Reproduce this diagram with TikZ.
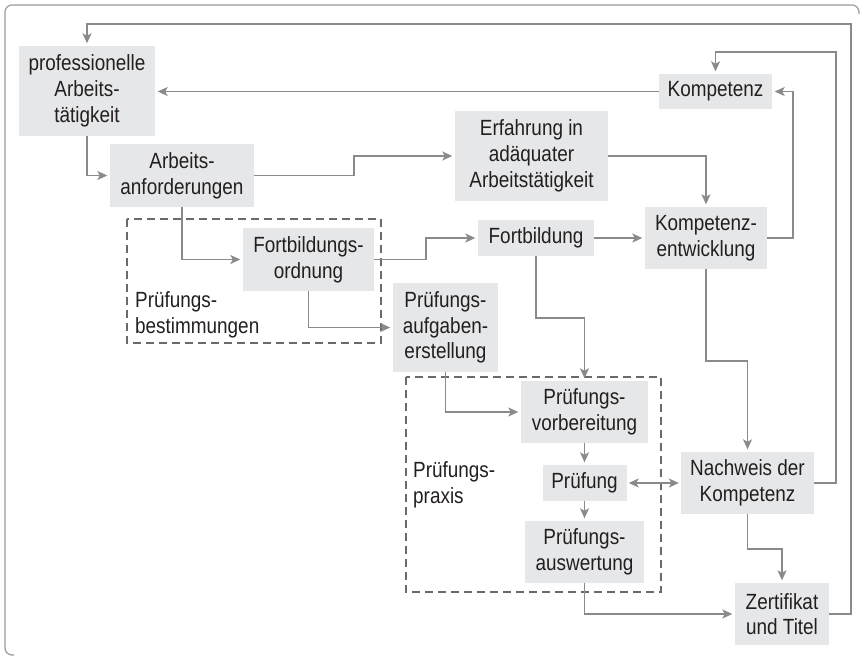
\documentclass[tikz,border=0pt]{standalone}
\usepackage{fontspec}
\setmainfont[FakeStretch=0.86]{Liberation Sans}
\usetikzlibrary{arrows.meta}
\definecolor{boxgray}{HTML}{E6E7E8}
\definecolor{linegray}{HTML}{8A8A8A}
\definecolor{framegray}{HTML}{9A9A9A}
\definecolor{dashgray}{HTML}{6A6A6A}
\definecolor{txt}{HTML}{231F20}
\tikzset{
  box/.style={fill=boxgray, inner sep=0pt, align=center, text=txt,
    font=\fontsize{22}{25.7}\selectfont},
  lbl/.style={inner sep=0pt, align=left, text=txt, anchor=west,
    font=\fontsize{22}{25.7}\selectfont},
  conn/.style={draw=linegray, line width=1.3pt},
  arr/.style={conn, -{Stealth[length=10pt,width=9pt,inset=2.5pt]}, shorten >=2.5pt},
  darr/.style={conn, {Stealth[length=10pt,width=9pt,inset=2.5pt]}-{Stealth[length=10pt,width=9pt,inset=2.5pt]}, shorten >=2pt, shorten <=2pt},
  group/.style={draw=dashgray, line width=1.1pt, dash pattern=on 8pt off 5pt},
}
\begin{document}
\begin{tikzpicture}[x=1pt,y=-1pt]
\useasboundingbox (0,0) rectangle (862,658);
% frame
\draw[framegray, line width=1.2pt, rounded corners=7pt] (859,14) -- (859,5) -- (5,5) -- (5,655) -- (14,655);
% dashed groups
\draw[group] (127,219) rectangle (381,343);
\draw[group] (406,377) rectangle (661,592);
\node[lbl] (lPB) at (135,314.5) {Prüfungs-\\bestimmungen};
\node[lbl] (lPP) at (413,485) {Prüfungs-\\praxis};
% boxes
\node[box, minimum width=136pt, minimum height=90pt] (pA) at (87,91) {professionelle\\Arbeits-\\tätigkeit};
\node[box, minimum width=144pt, minimum height=63pt] (AA) at (182,175.5) {Arbeits-\\anforderungen};
\node[box, minimum width=131pt, minimum height=63pt] (FO) at (308.5,259.5) {Fortbildungs-\\ordnung};
\node[box, minimum width=113pt, minimum height=35pt] (Komp) at (715.5,91.5) {Kompetenz};
\node[box, minimum width=153pt, minimum height=90pt] (Erf) at (531.5,156) {Erfahrung in\\adäquater\\Arbeitstätigkeit};
\node[box, minimum width=116pt, minimum height=36pt] (Fb) at (536,238) {Fortbildung};
\node[box, minimum width=122pt, minimum height=62pt] (KE) at (706,238) {Kompetenz-\\entwicklung};
\node[box, minimum width=105pt, minimum height=89pt] (PAE) at (445.5,327.5) {Prüfungs-\\aufgaben-\\erstellung};
\node[box, minimum width=127pt, minimum height=62pt] (PV) at (584.5,412) {Prüfungs-\\vorbereitung};
\node[box, minimum width=84pt, minimum height=36pt] (Pr) at (584.5,483) {Prüfung};
\node[box, minimum width=119pt, minimum height=62pt] (PAu) at (584.5,552) {Prüfungs-\\auswertung};
\node[box, minimum width=133pt, minimum height=62pt] (NK) at (747.5,483) {Nachweis der\\Kompetenz};
\node[box, minimum width=94pt, minimum height=62pt] (ZT) at (782,614) {Zertifikat\\und Titel};
% connectors
\draw[arr] (ZT.east) -| (851,24) -| (pA.north);
\draw[arr] (Komp.west) -- (Komp.west -| pA.east);
\draw[arr] (pA.south) |- (AA.west);
\draw[arr] (AA.east) -| (354,156) -- (Erf.west);
\draw[arr] (AA.south) |- (FO.west);
\draw[arr] (FO.east) -| (426,238) -- (Fb.west);
\draw[arr] (FO.south) |- (PAE.west);
\draw[arr] (Erf.east) -| (KE.north);
\draw[arr] (Fb.east) -- (KE.west);
\draw[arr] (KE.east) -| (793,91.5) -- (Komp.east);
\draw[arr] (NK.east) -| (836,52) -| (Komp.north);
\draw[arr] (Fb.south) |- (584.5,318) -- (PV.north);
\draw[arr] (KE.south) |- (747.5,361) -- (NK.north);
\draw[arr] (PAE.south) |- (PV.west);
\draw[arr] (PV.south) -- (Pr.north);
\draw[arr] (Pr.south) -- (PAu.north);
\draw[darr] (Pr.east) -- (NK.west);
\draw[arr] (PAu.south) |- (ZT.west);
\draw[arr] (NK.south) |- (782,549) -- (ZT.north);
\end{tikzpicture}
\end{document}
